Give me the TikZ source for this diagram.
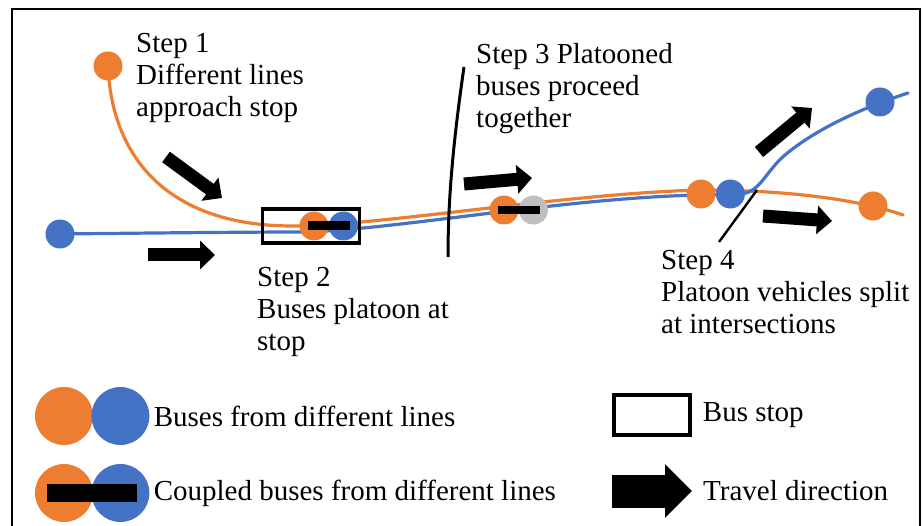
\documentclass[tikz,border=0pt]{standalone}
\usepackage{fontspec}
\setmainfont{Liberation Serif}
\usepackage{xcolor}
\usetikzlibrary{arrows.meta,positioning,calc}
\definecolor{lineorange}{HTML}{ED7D31}
\definecolor{lineblue}{HTML}{4472C4}
\definecolor{linegray}{HTML}{BFBFBF}
\tikzset{
	route/.style={line width=3.2pt, line cap=round},
	bus/.style={circle, inner sep=0pt, minimum size=29pt},
	coupler/.style={fill=black, inner sep=0pt, minimum width=42pt, minimum height=9pt},
	stopbox/.style={draw, line width=3.4pt, inner sep=0pt},
	blockarrow/.style={line width=13pt, -{Triangle[width=28pt, length=15pt]}},
	divider/.style={line width=3pt},
	steptext/.style={align=left, inner sep=0pt, anchor=north west,
		font=\fontsize{29}{32}\selectfont},
	legtext/.style={inner sep=0pt, font=\fontsize{29}{32}\selectfont}
}
\begin{document}
\begin{tikzpicture}[x=1pt, y=-1pt]
			\useasboundingbox (0,0) rectangle (923,526);
			
			%% -- Outer frame (runs off the bottom edge)
			\draw[line width=2pt] (12,540) -- (12,9) -- (920,9) -- (920,540);
			
			%% -- Bus routes
			\draw[route, lineorange] (108,66) .. controls (112,160) and (170,225) .. (290,226)
			.. controls (380,226) and (560,194) .. (700,190)
			.. controls (790,190) and (860,200) .. (903,215);
			\draw[route, lineblue] (60,234) .. controls (150,233) and (250,232) .. (300,232)
			.. controls (390,231) and (560,198) .. (700,195)
			-- (740,194) .. controls (760,193) and (765,172) .. (785,155)
			.. controls (810,134) and (850,112) .. (908,93);
			
			%% -- Step dividers
			\coordinate (cut3top) at (464,67);
			\coordinate (cut3bot) at (448,257);
			\draw[divider] (cut3top) .. controls (452,150) and (448,205) .. (cut3bot);
			\coordinate (cut4top) at (757,190);
			\coordinate (cut4bot) at (719,242);
			\draw[divider, line width=2.4pt] (cut4top) -- (cut4bot);
			
			%% -- Bus stop with the platoon
			\node[stopbox, minimum width=97pt, minimum height=34pt] (stop) at (311,226) {};
			\node[bus, fill=lineorange] (o2) at (314,226) {};
			\node[bus, fill=lineblue, right=0pt of o2] (b2) {};
			\node[coupler] (c2) at ($(o2)!0.5!(b2)$) {};
			
			%% -- Buses on the road
			\node[bus, fill=lineorange] (o1) at (108,66) {};
			\node[bus, fill=lineblue] (b1) at (60,234) {};
			\node[bus, fill=lineorange] (o3) at (504,210) {};
			\node[bus, fill=linegray, right=0pt of o3] (g3) {};
			\node[coupler, minimum height=8pt] (c3) at ($(o3)!0.5!(g3)$) {};
			\node[bus, fill=lineorange] (o4) at (701,194) {};
			\node[bus, fill=lineblue, right=0pt of o4] (b4) {};
			\node[bus, fill=lineblue] (b5) at (880,102) {};
			\node[bus, fill=lineorange] (o5) at (873,206) {};
			
			%% -- Travel direction arrows
			\coordinate (a1s) at (166,157);  \coordinate (a1e) at (222,198);
			\coordinate (a2s) at (148,255);  \coordinate (a2e) at (215,255);
			\coordinate (a3s) at (464,184);  \coordinate (a3e) at (532,178);
			\coordinate (a4s) at (759,152);  \coordinate (a4e) at (812,108);
			\coordinate (a5s) at (763,216);  \coordinate (a5e) at (832,221);
			\draw[blockarrow] (a1s) -- (a1e);
			\draw[blockarrow] (a2s) -- (a2e);
			\draw[blockarrow] (a3s) -- (a3e);
			\draw[blockarrow] (a4s) -- (a4e);
			\draw[blockarrow] (a5s) -- (a5e);
			
			%% -- Step labels
			\node[steptext] (step1) at (136,33) {Step 1\\Different lines\\approach stop};
			\node[steptext] (step2) at (257,267) {Step 2\\Buses platoon at\\stop};
			\node[steptext] (step3) at (476,43) {Step 3 Platooned\\buses proceed\\together};
			\node[steptext] (step4) at (661,250) {Step 4\\Platoon vehicles split\\at intersections};
			
			%% -- Legend
			\node[bus, minimum size=58pt, fill=lineorange] (lo1) at (64,416) {};
			\node[bus, minimum size=58pt, fill=lineblue, right=-2pt of lo1] (lb1) {};
			\node[legtext, right=4pt of lb1] (lt1) {Buses from different lines};
			
			\node[bus, minimum size=58pt, fill=lineorange] (lo2) at (64,493) {};
			\node[bus, minimum size=58pt, fill=lineblue, right=-2pt of lo2] (lb2) {};
			\node[coupler, minimum width=90pt, minimum height=18pt] (lc2) at ($(lo2)!0.5!(lb2)$) {};
			\node[legtext, right=4pt of lb2] (lt2) {Coupled buses from different lines};
			
			\node[stopbox, minimum width=76pt, minimum height=40pt] (lstop) at (652,415) {};
			\node[legtext, right=11pt of lstop] (lt3) {Bus stop};
			
			\coordinate (larrs) at (612,491);
			\coordinate (larre) at (692,491);
			\draw[line width=33pt, -{Triangle[width=52pt, length=27pt]}] (larrs) -- (larre);
			\node[legtext, right=11pt of larre] (lt4) {Travel direction};
			
		\end{tikzpicture}
\end{document}
